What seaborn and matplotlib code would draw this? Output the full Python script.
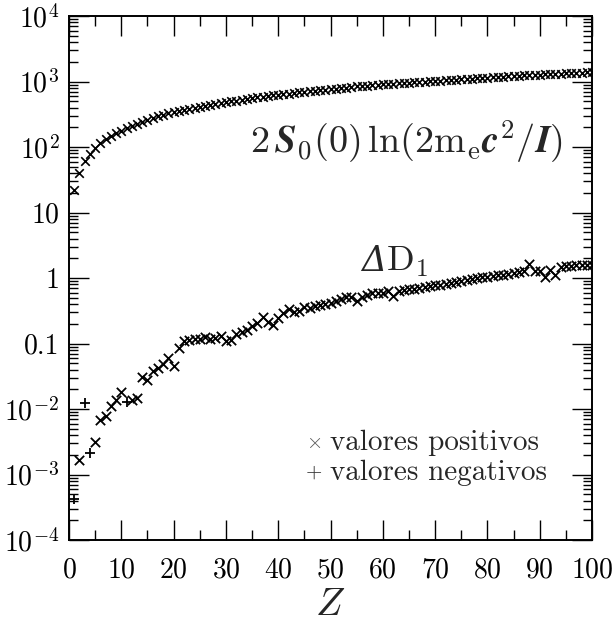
import numpy as np
import pandas as pd
import matplotlib
matplotlib.use("Agg")
import matplotlib.pyplot as plt
import matplotlib.ticker as mticker
import seaborn as sns

# ---------------- data ----------------
Z = list(range(1, 101))

# 2 S0(0) ln(2 m_e c^2 / I)
upper = [21.8, 40.4, 60.9, 77.5, 95.1, 113.8, 132.0, 148.5, 163.7, 178.3,
         194.3, 210.9, 226.9, 243.2, 260.5, 276.6, 295.1, 309.6, 326.4, 343.4,
         355.4, 369.0, 383.5, 397.8, 411.6, 425.4, 439.7, 453.4, 467.6, 482.3,
         497.6, 510.7, 527.2, 543.0, 557.1, 574.1, 587.8, 603.0, 616.1, 629.0,
         639.9, 654.1, 668.9, 681.8, 695.7, 706.9, 722.3, 737.9, 749.4, 764.7,
         780.2, 795.9, 810.0, 827.2, 841.2, 855.8, 868.7, 878.9, 891.5, 904.1,
         916.1, 928.0, 941.7, 954.2, 964.2, 976.0, 986.2, 999.3, 1010.7, 1023.3,
         1035.9, 1048.2, 1060.1, 1072.7, 1085.4, 1097.7, 1110.0, 1117.7, 1132.1, 1144.3,
         1156.7, 1168.3, 1182.6, 1195.5, 1210.7, 1231.5, 1238.7, 1253.3, 1264.2, 1277.1,
         1284.7, 1296.5, 1308.0, 1318.3, 1329.6, 1342.5, 1353.7, 1364.9, 1376.1, 1387.0]

# |Delta D1|
delta_abs = [4.3e-4, 1.65e-3, 0.0122, 2.15e-3, 3.17e-3, 6.9e-3, 7.8e-3, 0.0111, 0.0137, 0.0184,
             0.0127, 0.0137, 0.0149, 0.031, 0.0282, 0.0379, 0.0427, 0.0495, 0.0605, 0.0451,
             0.086, 0.108, 0.115, 0.118, 0.118, 0.126, 0.118, 0.122, 0.132, 0.108,
             0.115, 0.141, 0.149, 0.163, 0.184, 0.207, 0.255, 0.211, 0.195, 0.246,
             0.294, 0.338, 0.300, 0.311, 0.362, 0.35, 0.37, 0.39, 0.40, 0.42,
             0.44, 0.48, 0.51, 0.52, 0.44, 0.52, 0.56, 0.59, 0.59, 0.60,
             0.63, 0.53, 0.64, 0.66, 0.67, 0.69, 0.71, 0.73, 0.75, 0.77,
             0.79, 0.82, 0.84, 0.87, 0.90, 0.93, 0.96, 0.99, 1.02, 1.04,
             1.07, 1.10, 1.13, 1.16, 1.20, 1.24, 1.27, 1.66, 1.27, 1.27,
             1.04, 1.34, 1.13, 1.48, 1.52, 1.54, 1.56, 1.57, 1.59, 1.60]

# Z values where Delta D1 is negative
negative_Z = [1, 3, 4, 11]

y_ticks = [1e-4, 1e-3, 1e-2, 0.1, 1, 10, 1e2, 1e3, 1e4]
y_ticklabels = [r"$10^{-4}$", r"$10^{-3}$", r"$10^{-2}$", "0.1", "1", "10",
                r"$10^{2}$", r"$10^{3}$", r"$10^{4}$"]
x_ticks = list(range(0, 101, 10))

label_upper_bold = r"$2\,\mathbfit{S}_0(0)\,\ln(2\mathrm{m_e}\mathbfit{c}^2/\mathbfit{I})$"
label_upper_plain = r"$2\,S_0(0)\,\ln(2\mathrm{m_e}c^2/I)$"
label_delta_sym = "\u0394"
label_delta_rest = r"$\mathrm{D}_1$"
legend_pos = "valores positivos"
legend_neg = "valores negativos"

# ---------------- style ----------------
sns.set_theme(style="ticks")
plt.rcParams["font.family"] = ["cmr10", "DejaVu Serif"]
plt.rcParams["mathtext.fontset"] = "cm"
plt.rcParams["axes.formatter.use_mathtext"] = True

df_up = pd.DataFrame({"Z": Z, "val": upper})
df_d = pd.DataFrame({"Z": Z, "val": delta_abs})
df_d["neg"] = df_d["Z"].isin(negative_Z)

fig = plt.figure(figsize=(6.13, 6.23), dpi=100)
ax = fig.add_axes([0.1126, 0.1332, 0.8532, 0.8411])

sns.scatterplot(data=df_up, x="Z", y="val", marker="x", color="black",
                s=38, linewidth=1.2, ax=ax, legend=False)
sns.scatterplot(data=df_d[~df_d["neg"]], x="Z", y="val", marker="x", color="black",
                s=45, linewidth=1.3, ax=ax, legend=False)
sns.scatterplot(data=df_d[df_d["neg"]], x="Z", y="val", marker="+", color="black",
                s=55, linewidth=1.3, ax=ax, legend=False)

ax.set_yscale("log")
ax.set_xlim(0, 100)
ax.set_ylim(1e-4, 1e4)

ax.yaxis.set_major_locator(mticker.FixedLocator(y_ticks))
ax.yaxis.set_major_formatter(mticker.FixedFormatter(y_ticklabels))
ax.yaxis.set_minor_locator(mticker.LogLocator(base=10, subs=np.arange(2, 10), numticks=100))
ax.yaxis.set_minor_formatter(mticker.NullFormatter())
ax.xaxis.set_major_locator(mticker.FixedLocator(x_ticks))
ax.xaxis.set_minor_locator(mticker.MultipleLocator(5))

ax.tick_params(which="both", direction="in", top=True, right=True, colors="black",
               labelsize=20)
ax.tick_params(axis="x", which="major", length=14.5, width=1.0, pad=12)
ax.tick_params(axis="x", which="minor", length=7, width=1.0)
ax.tick_params(axis="y", which="major", length=14.5, width=1.0, pad=7)
ax.tick_params(axis="y", which="minor", length=6.5, width=1.0)
for sp in ax.spines.values():
    sp.set_linewidth(1.4)
    sp.set_color("black")

ax.set_xlabel(r"$Z$", fontsize=28, labelpad=3)
ax.set_ylabel("")

t_up = ax.text(0.645, 0.758, label_upper_bold, transform=ax.transAxes, fontsize=27.5,
               ha="center", va="center")
try:
    fig.canvas.draw()
except Exception:
    t_up.set_text(label_upper_plain)

ax.text(0.607, 0.533, label_delta_sym, transform=ax.transAxes, fontsize=25,
        ha="right", va="center", family="DejaVu Serif", style="italic")
ax.text(0.607, 0.531, label_delta_rest, transform=ax.transAxes, fontsize=26,
        ha="left", va="center")

ax.text(0.468, 0.186, r"$\times$", transform=ax.transAxes, fontsize=15,
        ha="center", va="center", color="0.35")
ax.text(0.499, 0.186, legend_pos, transform=ax.transAxes, fontsize=21,
        ha="left", va="center")
ax.text(0.468, 0.128, r"$+$", transform=ax.transAxes, fontsize=15,
        ha="center", va="center", color="0.2")
ax.text(0.499, 0.128, legend_neg, transform=ax.transAxes, fontsize=21,
        ha="left", va="center")

fig.savefig("out.png", dpi=100)
